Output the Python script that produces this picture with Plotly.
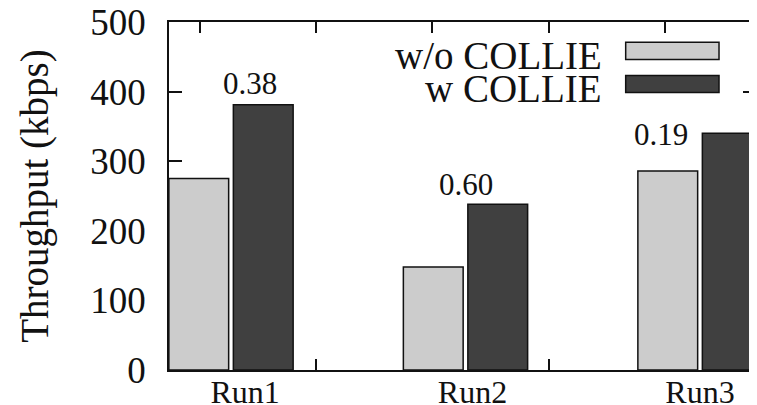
import plotly.graph_objects as go

# ---- data ----
categories = ["Run1", "Run2", "Run3"]
series_names = ["w/o COLLIE", "w COLLIE"]
without_collie = [275, 148, 286]
with_collie = [381, 238, 340]
gain_labels = ["0.38", "0.60", "0.19"]
y_ticks = [0, 100, 200, 300, 400, 500]

# ---- style / positions ----
FONT = "Liberation Serif, Times New Roman, serif"
INK = "#111111"
fills = ["#cccccc", "#404040"]
bar_w = 0.255
offsets = [-0.265, 0.010]
label_nudge = [0.06, 0.03, 0.0]
gain_dx = [0.08, 0.0, -0.165]
gain_y = [412, 266, 338]
minor_x_ticks = [-0.132, 0.3625, 0.857, 1.355, 1.85]

xs = list(range(len(categories)))

fig = go.Figure()
for name, vals, fill, off in zip(series_names, [without_collie, with_collie], fills, offsets):
    fig.add_trace(go.Bar(
        x=xs, y=vals, name=name, width=bar_w, offset=off,
        marker=dict(color=fill, line=dict(color=INK, width=1.5)),
        showlegend=False, xaxis="x", yaxis="y",
    ))

# invisible trace for tick axis
fig.add_trace(go.Scatter(x=[minor_x_ticks[0]], y=[0], mode="markers",
                         marker=dict(opacity=0), xaxis="x2", yaxis="y",
                         showlegend=False, hoverinfo="skip"))

x_range = [-0.2644, 2.2388]
# page body adds an 8px margin, so the figure is 8px smaller and shifted
fig.update_layout(
    width=749, height=397,
    margin=dict(l=161, r=1, t=14, b=35, autoexpand=False),
    paper_bgcolor="white", plot_bgcolor="white",
    barmode="overlay",
    font=dict(family=FONT, color=INK),
    xaxis=dict(
        range=x_range, automargin=False,
        tickvals=[x + n for x, n in zip(xs, label_nudge)],
        ticktext=categories,
        ticks="", showline=False, showgrid=False, zeroline=False,
        tickfont=dict(size=32, family=FONT, color=INK),
        ticklabelstandoff=0, ticklabeloverflow="allow",
    ),
    xaxis2=dict(
        range=x_range, overlaying="x", anchor="y", side="bottom", automargin=False,
        tickvals=minor_x_ticks, showticklabels=False,
        ticks="inside", ticklen=11, tickwidth=1.5, tickcolor=INK,
        showline=True, linecolor=INK, linewidth=1.5, mirror="ticks",
        showgrid=False, zeroline=False, layer="below traces",
    ),
    yaxis=dict(
        range=[0, 500], tickvals=y_ticks, automargin=False,
        ticks="inside", ticklen=13, tickwidth=1.5, tickcolor=INK,
        showline=True, linecolor=INK, linewidth=1.5, mirror="ticks",
        showgrid=False, zeroline=False, layer="below traces",
        tickfont=dict(size=37, family=FONT, color=INK),
        ticklabelstandoff=14, ticklabeloverflow="allow",
        title=dict(text="Throughput (kbps)", font=dict(size=39, family=FONT, color=INK), standoff=30),
    ),
)

# gain labels above bars
for i, (lab, dx, gy) in enumerate(zip(gain_labels, gain_dx, gain_y)):
    fig.add_annotation(x=xs[i] + dx, y=gy, text=lab, showarrow=False,
                       xref="x", yref="y", xanchor="center", yanchor="middle",
                       font=dict(size=31, family=FONT, color=INK))

# legend drawn manually (text left, swatch right)
leg_text_x = 0.741
leg_rows = [0.905, 0.81]
box_x0, box_x1 = 0.778, 0.937
box_half = 0.0245
for name, fill, ry in zip(series_names, fills, leg_rows):
    fig.add_annotation(x=leg_text_x, y=ry, xref="paper", yref="paper", text=name,
                       showarrow=False, xanchor="right", yanchor="middle",
                       font=dict(size=39, family=FONT, color=INK))
    fig.add_shape(type="rect", xref="paper", yref="paper",
                  x0=box_x0, x1=box_x1, y0=ry + 0.012 - box_half, y1=ry + 0.012 + box_half,
                  fillcolor=fill, line=dict(color=INK, width=1.5))

fig.write_html("out.html")
